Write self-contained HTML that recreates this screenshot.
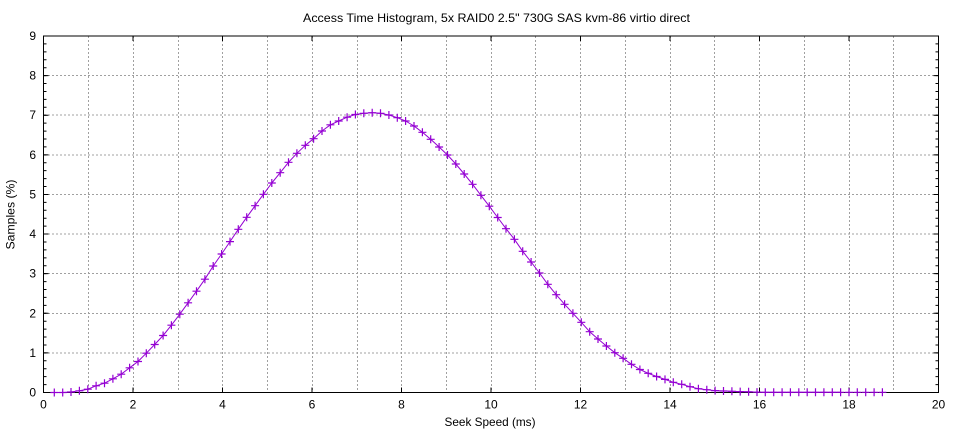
<!DOCTYPE html>
<html>
<head>
<meta charset="utf-8">
<style>
  html,body{margin:0;padding:0;background:#fff;}
  svg{display:block;}
  text{font-family:"Liberation Sans",sans-serif;fill:#000;}
</style>
</head>
<body>
<svg width="960" height="432" viewBox="0 0 960 432" xmlns="http://www.w3.org/2000/svg">
  <defs>
    <marker id="plus" markerUnits="userSpaceOnUse" markerWidth="10" markerHeight="10" refX="5" refY="5" viewBox="0 0 10 10" overflow="visible">
      <path d="M1 5H9M5 1V9" stroke="#9400d3" stroke-width="1.2" fill="none"/>
    </marker>
  </defs>
  <rect x="0" y="0" width="960" height="432" fill="#fff"/>

  <g stroke="#a0a0a0" stroke-width="1" stroke-dasharray="2 2" fill="none" shape-rendering="crispEdges">
    <path d="M88.5 36V392 M133.5 36V392 M178.5 36V392 M222.5 36V392 M267.5 36V392 M312.5 36V392 M357.5 36V392 M401.5 36V392 M446.5 36V392 M491.5 36V392 M535.5 36V392 M580.5 36V392 M625.5 36V392 M670.5 36V392 M714.5 36V392 M759.5 36V392 M804.5 36V392 M849.5 36V392 M893.5 36V392"/>
    <path d="M44 352.9H938 M44 313.3H938 M44 273.7H938 M44 234.1H938 M44 194.5H938 M44 154.8H938 M44 115.2H938 M44 75.6H938"/>
  </g>

  <rect x="43.5" y="36" width="895" height="356.5" fill="none" stroke="#000" stroke-width="1"/>

  <line x1="45" y1="393" x2="45" y2="35" stroke="#000" stroke-width="3" stroke-dasharray="1 6.922"/>
  <line x1="937" y1="393" x2="937" y2="35" stroke="#000" stroke-width="3" stroke-dasharray="1 6.922"/>
  <line x1="46" y1="393" x2="46" y2="35" stroke="#000" stroke-width="5" stroke-dasharray="1 38.61"/>
  <line x1="936" y1="393" x2="936" y2="35" stroke="#000" stroke-width="5" stroke-dasharray="1 38.61"/>
  <line x1="43" y1="38.5" x2="940" y2="38.5" stroke="#000" stroke-width="5" stroke-dasharray="1 88.5"/>
  <line x1="43" y1="390" x2="940" y2="390" stroke="#000" stroke-width="5" stroke-dasharray="1 88.5"/>

  <g font-size="12" text-anchor="end">
    <text x="36" y="396.5">0</text>
    <text x="36" y="356.9">1</text>
    <text x="36" y="317.3">2</text>
    <text x="36" y="277.7">3</text>
    <text x="36" y="238.1">4</text>
    <text x="36" y="198.5">5</text>
    <text x="36" y="158.8">6</text>
    <text x="36" y="119.2">7</text>
    <text x="36" y="79.6">8</text>
    <text x="36" y="40">9</text>
  </g>
  <g font-size="12" text-anchor="middle">
    <text x="43.5" y="408.5">0</text>
    <text x="133" y="408.5">2</text>
    <text x="222.5" y="408.5">4</text>
    <text x="312" y="408.5">6</text>
    <text x="401.5" y="408.5">8</text>
    <text x="491" y="408.5">10</text>
    <text x="580.5" y="408.5">12</text>
    <text x="670" y="408.5">14</text>
    <text x="759.5" y="408.5">16</text>
    <text x="849" y="408.5">18</text>
    <text x="938.5" y="408.5">20</text>
  </g>

  <text x="496.5" y="22" font-size="12" text-anchor="middle" textLength="387" lengthAdjust="spacingAndGlyphs">Access Time Histogram, 5x RAID0 2.5" 730G SAS kvm-86 virtio direct</text>
  <text x="490" y="426" font-size="12" text-anchor="middle" textLength="91" lengthAdjust="spacingAndGlyphs">Seek Speed (ms)</text>
  <text x="0" y="0" font-size="12" text-anchor="middle" textLength="70" lengthAdjust="spacingAndGlyphs" transform="translate(14.5 214.5) rotate(-90)">Samples (%)</text>

  <polyline fill="none" stroke="#9400d3" stroke-width="1" stroke-linejoin="round" points="54.3,392.5 62.7,392.5 71.0,392.0 79.4,390.8 87.8,389.2 96.1,385.8 104.5,383.2 112.9,378.8 121.2,374.2 129.6,367.8 138.0,361.5 146.3,353.2 154.7,344.5 163.1,335.5 171.4,325.2 179.8,314.2 188.1,302.8 196.5,291.2 204.9,279.2 213.2,266.0 221.6,254.0 230.0,241.6 238.3,229.3 246.7,217.3 255.1,205.7 263.4,194.3 271.8,183.0 280.2,172.7 288.5,162.3 296.9,153.3 305.3,145.3 313.6,138.7 322.0,131.0 330.4,124.8 338.7,121.0 347.1,117.2 355.4,114.5 363.8,113.3 372.2,112.7 380.5,113.3 388.9,115.0 397.3,117.7 405.6,121.0 414.0,126.0 422.4,132.3 430.7,139.3 439.1,147.0 447.5,155.0 455.8,164.0 464.2,174.0 472.6,184.3 480.9,195.3 489.3,206.2 497.7,217.5 506.0,228.7 514.4,239.3 522.7,251.3 531.1,262.0 539.5,273.0 547.8,284.3 556.2,294.7 564.6,304.3 572.9,313.3 581.3,322.3 589.7,331.7 598.0,339.0 606.4,346.0 614.8,352.7 623.1,358.3 631.5,364.3 639.9,369.5 648.2,373.3 656.6,376.5 665.0,379.4 673.3,382.3 681.7,384.3 690.0,386.7 698.4,388.7 706.8,389.7 715.1,390.6 723.5,391.0 731.9,391.3 740.2,391.6 748.6,391.8 757.0,392.1 765.3,392.3 773.7,392.3 782.1,392.3 790.4,392.3 798.8,392.3 807.2,392.3 815.5,392.3 823.9,392.3 832.3,392.3 840.6,392.3"/>

  <polyline fill="none" stroke="none" marker-start="url(#plus)" marker-mid="url(#plus)" marker-end="url(#plus)" points="54.3,392.5 62.7,392.5 71.0,392.0 79.4,390.8 87.8,389.2 96.1,385.8 104.5,383.2 112.9,378.8 121.2,374.2 129.6,367.8 138.0,361.5 146.3,353.2 154.7,344.5 163.1,335.5 171.4,325.2 179.8,314.2 188.1,302.8 196.5,291.2 204.9,279.2 213.2,266.0 221.6,254.0 230.0,241.6 238.3,229.3 246.7,217.3 255.1,205.7 263.4,194.3 271.8,183.0 280.2,172.7 288.5,162.3 296.9,153.3 305.3,145.3 313.6,138.7 322.0,131.0 330.4,124.8 338.7,121.0 347.1,117.2 355.4,114.5 363.8,113.3 372.2,112.7 380.5,113.3 388.9,115.0 397.3,117.7 405.6,121.0 414.0,126.0 422.4,132.3 430.7,139.3 439.1,147.0 447.5,155.0 455.8,164.0 464.2,174.0 472.6,184.3 480.9,195.3 489.3,206.2 497.7,217.5 506.0,228.7 514.4,239.3 522.7,251.3 531.1,262.0 539.5,273.0 547.8,284.3 556.2,294.7 564.6,304.3 572.9,313.3 581.3,322.3 589.7,331.7 598.0,339.0 606.4,346.0 614.8,352.7 623.1,358.3 631.5,364.3 639.9,369.5 648.2,373.3 656.6,376.5 665.0,379.4 673.3,382.3 681.7,384.3 690.0,386.7 698.4,388.7 706.8,389.7 715.1,390.6 723.5,391.0 731.9,391.3 740.2,391.6 748.6,391.8 757.0,392.1 765.3,392.3 773.7,392.3 782.1,392.3 790.4,392.3 798.8,392.3 807.2,392.3 815.5,392.3 823.9,392.3 832.3,392.3 840.6,392.3 849.0,392.3 857.3,392.3 865.7,392.3 874.1,392.3 882.4,392.3"/>
</svg>
</body>
</html>
